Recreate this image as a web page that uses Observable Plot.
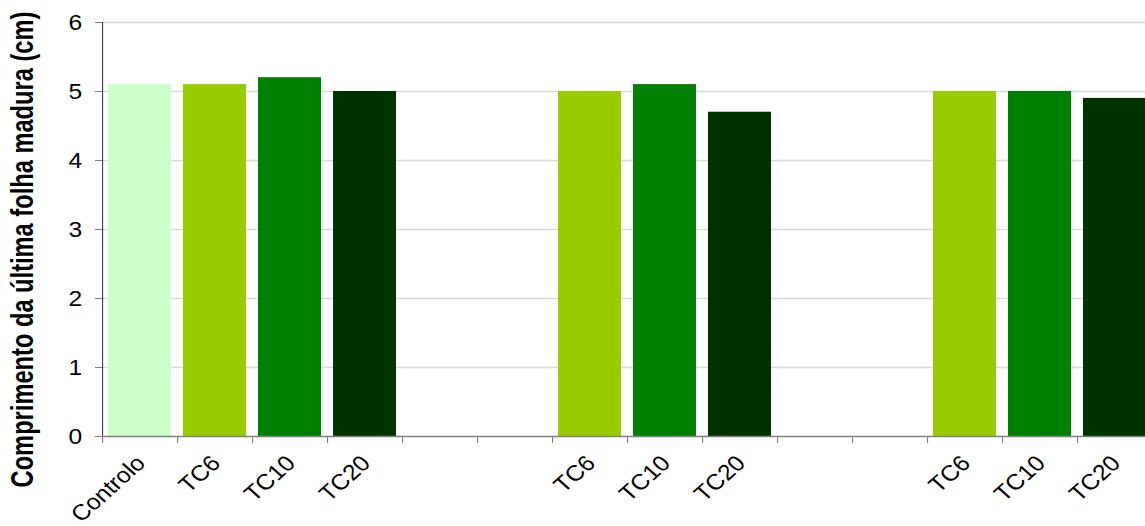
<!DOCTYPE html>
<html>
<head>
<meta charset="utf-8">
<script src="https://cdn.jsdelivr.net/npm/d3@7"></script>
<script src="https://cdn.jsdelivr.net/npm/@observablehq/plot@0.6"></script>
<style>
  html, body { margin: 0; padding: 0; background: #fff; overflow: hidden; }
  #chart { width: 1145px; height: 526px; overflow: hidden; }
  #chart svg { display: block; font-family: "Liberation Sans", Arial, sans-serif; transform: scaleX(1.12); transform-origin: 0 0; }
</style>
</head>
<body>
<div id="chart"></div>
<script>
const labels = ["Controlo","TC6","TC10","TC20","","","TC6","TC10","TC20","","","TC6","TC10","TC20"];
const values = [5.1, 5.1, 5.2, 5.0, null, null, 5.0, 5.1, 4.7, null, null, 5.0, 5.0, 4.9];
const colours = {"Controlo": "#ccffcc", "TC6": "#99cc00", "TC10": "#008000", "TC20": "#003300"};
const yTicks = [0, 1, 2, 3, 4, 5, 6];
const yTitle = "Comprimento da última folha madura (cm)";

// the reference picture is stretched horizontally; draw narrower and stretch
const S = 1.12;
const data = labels.map((l, i) => ({i, label: l, value: values[i]})).filter(d => d.value != null);
const slotEdges = d3.range(labels.length + 1);
const slotCentres = d3.range(labels.length).map(i => i + 0.5).filter((c, i) => labels[i] !== "");

const left = 102 / S;
const chart = Plot.plot({
  width: Math.ceil(1145 / S),
  height: 526,
  marginLeft: left,
  marginRight: 0,
  marginTop: 22,
  marginBottom: 90,
  style: {fontFamily: "Liberation Sans, Arial, sans-serif", background: "#fff", overflow: "hidden"},
  x: {domain: [0, labels.length], range: [left, 1152 / S]},
  y: {domain: [0, 6], range: [436, 22]},
  marks: [
    Plot.gridY(yTicks.filter(t => t > 0), {stroke: "#d9d9d9", strokeOpacity: 1, strokeWidth: 1.5}),
    Plot.rectY(data, {
      x1: d => d.i, x2: d => d.i + 1, y: "value",
      fill: d => colours[d.label], insetLeft: 6 / S, insetRight: 6 / S
    }),
    Plot.ruleX([0], {stroke: "#404040", strokeWidth: 1}),
    Plot.ruleY([0], {stroke: "#808080", strokeWidth: 1.5}),
    Plot.axisY({
      ticks: yTicks, tickFormat: d3.format("d"), tickSize: 7 / S, tickPadding: 12, fontSize: 22,
      stroke: "#808080", color: "#000", label: null
    }),
    Plot.text([yTitle], {
      frameAnchor: "left", rotate: -90, textAnchor: "middle", lineAnchor: "middle",
      dx: 22 / S - left, dy: 20, fontSize: 28, fontWeight: "bold", fill: "#000"
    }),
    Plot.axisX({ticks: slotEdges, tickFormat: () => "", tickSize: 7, stroke: "#808080", label: null}),
    Plot.axisX({
      ticks: slotCentres, tickFormat: c => labels[Math.floor(c)],
      tickSize: 0, tickPadding: 8, tickRotate: -45, fontSize: 22, color: "#000",
      label: null, dx: 1, dy: 15
    })
  ]
});
document.getElementById("chart").append(chart);
// condense the title along its length, as in the reference (476 px long)
const title = chart.querySelector('g[aria-label="text"] text');
if (title) {
  const natural = title.getComputedTextLength ? title.getComputedTextLength() : 563;
  const k = natural > 0 ? 476 / natural : 0.845;
  const t = title.getAttribute("transform") || "";
  title.setAttribute("transform", (t + ` scale(${k},1)`).trim());
}
</script>
</body>
</html>
